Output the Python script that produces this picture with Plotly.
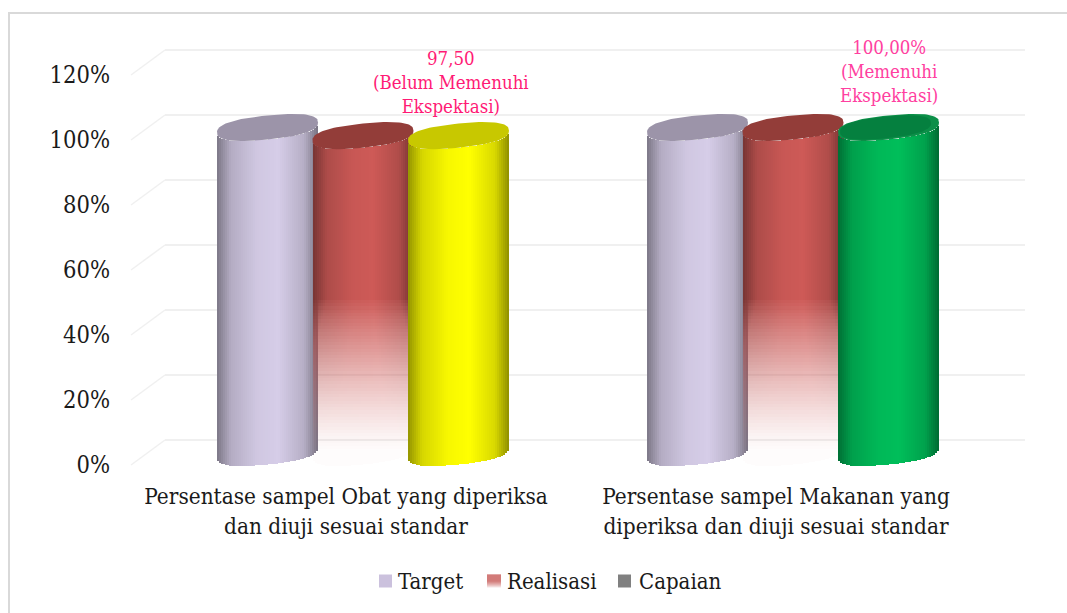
import numpy as np
import plotly.graph_objects as go

# ---------- data ----------
CATEGORIES = ["Persentase sampel Obat yang diperiksa<br>dan diuji sesuai standar",
              "Persentase sampel Makanan yang<br>diperiksa dan diuji sesuai standar"]
SERIES = ["Target", "Realisasi", "Capaian"]
TARGET = [100, 100]
REALISASI = [97.5, 100]
CAPAIAN = [97.5, 100]
Y_TICKS = [0, 20, 40, 60, 80, 100, 120]
Y_LABELS = ["0%", "20%", "40%", "60%", "80%", "100%", "120%"]
NOTES = ["97,50<br>(Belum Memenuhi<br>Ekspektasi)", "100,00%<br>(Memenuhi<br>Ekspektasi)"]

# ---------- styles / geometry ----------
FONT = "DejaVu Serif Condensed, DejaVu Serif, Liberation Serif"
TXT = "#1a1a1a"
W, H = 1067, 613
ML, MR, MT, MB = 111, 27, 20, 132
PX_PER_CAT = 430.0
PX_PER_PCT = 3.25
CAT0_PX, ZERO_PX = 346.0, 465.0
XR = [(ML - CAT0_PX) / PX_PER_CAT, (W - MR - CAT0_PX) / PX_PER_CAT]
YR = [(ZERO_PX - (H - MB)) / PX_PER_PCT, (ZERO_PX - MT) / PX_PER_PCT]
DEPTH_X, DEPTH_Y = 34 / PX_PER_CAT, 25 / PX_PER_PCT      # floor depth
CYL_DX, CYL_DY = 17 / PX_PER_CAT, 12.5 / PX_PER_PCT      # cylinder axis
STEP = 95.5 / PX_PER_CAT
R = 50.5 / PX_PER_CAT
TILT, SQUASH = 5 / PX_PER_PCT, 12 / PX_PER_PCT
ROUND = 0.8                                              # superellipse exponent of the end faces
N_STRIPS = 50
FADE_TOP, FADE_ROW = 47.0, 1.0

TARGET_RGB = (214, 205, 232)
RED_RGB = (206, 90, 87)
YELLOW_RGB = (255, 255, 0)
GREEN_RGB = (0, 190, 90)
CAPS = {"t": "#9C94A9", "r": "#933D39", "y": "#C8C800", "g": "#0C8F48", "g2": "#05803F"}
GRID = "#F0F0F0"
SHADE_U = [-1.0, -0.72, -0.2, 0.2, 0.72, 1.0]
SHADE_F = [0.58, 0.84, 0.97, 1.0, 0.85, 0.56]


def shade(u):
    for i in range(len(SHADE_U) - 1):
        if u <= SHADE_U[i + 1]:
            t = (u - SHADE_U[i]) / (SHADE_U[i + 1] - SHADE_U[i])
            return SHADE_F[i] + t * (SHADE_F[i + 1] - SHADE_F[i])
    return SHADE_F[-1]


def col(rgb, u, a=None):
    f = shade(u)
    r, g, b = [min(255, round(c * f)) for c in rgb]
    return f"rgb({r},{g},{b})" if a is None else f"rgba({r},{g},{b},{a:.3f})"


def front(u):
    c = abs(u) ** (1 / ROUND)
    return TILT * u - SQUASH * (1 - c * c) ** (ROUND / 2)


def body(cx, value, rgb, fade=False):
    xs, ys, bases, cols = [], [], [], []
    sw = 2 * R / N_STRIPS
    for i in range(N_STRIPS):
        u = -1 + (i + 0.5) * 2 / N_STRIPS
        x = cx + CYL_DX + u * R
        off = CYL_DY + front(u)
        if not fade:
            xs.append(x); bases.append(off); ys.append(value); cols.append(col(rgb, u))
            continue
        # the fade keeps a level top edge across the strip
        level = FADE_TOP + CYL_DY
        xs.append(x); bases.append(level); ys.append(value + off - level)
        cols.append(col(rgb, u, 1.0))
        v = level
        while v - FADE_ROW > off:
            v -= FADE_ROW
            t = max(0.0, (v - CYL_DY) / FADE_TOP)
            xs.append(x); bases.append(v); ys.append(FADE_ROW)
            cols.append(col(rgb, u * (0.2 + 0.8 * t), 0.02 + 0.98 * t ** 1.25))
        if v > off:
            xs.append(x); bases.append(off); ys.append(v - off)
            cols.append(col(rgb, u * 0.2, 0.02))
    return go.Bar(x=xs, y=ys, base=bases, width=[sw] * len(xs),
                  marker=dict(color=cols, line=dict(width=0)),
                  hoverinfo="skip", showlegend=False)


def cap(cx, value, color, scale=1.0):
    a = np.linspace(0, 2 * np.pi, 97)
    c = np.sign(np.cos(a)) * np.abs(np.cos(a)) ** ROUND
    s = np.sign(np.sin(a)) * np.abs(np.sin(a)) ** ROUND
    xs = cx + CYL_DX + R * c * scale
    ys = value + CYL_DY + (TILT * c + SQUASH * s) * scale
    return go.Scatter(x=xs.tolist(), y=ys.tolist(), mode="lines", fill="toself", fillcolor=color,
                      line=dict(width=0), hoverinfo="skip", showlegend=False)


fig = go.Figure()
caps = []
for g in range(len(CATEGORIES)):
    x_t, x_r, x_c = g - STEP, g, g + STEP
    fig.add_trace(body(x_t, TARGET[g], TARGET_RGB))
    fig.add_trace(body(x_r, REALISASI[g], RED_RGB, fade=True))
    rgb_c = YELLOW_RGB if g == 0 else GREEN_RGB
    fig.add_trace(body(x_c, CAPAIAN[g], rgb_c))
    caps += [cap(x_t, TARGET[g], CAPS["t"]), cap(x_r, REALISASI[g], CAPS["r"]),
             cap(x_c, CAPAIAN[g], CAPS["y"] if g == 0 else CAPS["g"])]
    if g == 1:
        caps.append(cap(x_c - 3 / PX_PER_CAT, CAPAIAN[g], CAPS["g2"], scale=0.9))
for c in caps:
    fig.add_trace(c)

shapes = []
for v in Y_TICKS:
    shapes.append(dict(type="line", layer="below", xref="x", yref="y",
                       x0=-0.5 + DEPTH_X, x1=1.5 + DEPTH_X, y0=v + DEPTH_Y, y1=v + DEPTH_Y,
                       line=dict(color=GRID, width=2)))
    shapes.append(dict(type="line", layer="below", xref="x", yref="y",
                       x0=-0.5, x1=-0.5 + DEPTH_X, y0=v, y1=v + DEPTH_Y,
                       line=dict(color=GRID, width=1.5)))


def pxx(p):
    return (p - ML) / (W - ML - MR)


def pxy(p):
    return 1 - (p - MT) / (H - MT - MB)


# outer frame
shapes.append(dict(type="line", xref="paper", yref="paper", x0=pxx(9), x1=pxx(9), y0=pxy(13), y1=pxy(613),
                   line=dict(color="#D9D9D9", width=2)))
shapes.append(dict(type="line", xref="paper", yref="paper", x0=pxx(8), x1=pxx(1067), y0=pxy(13), y1=pxy(13),
                   line=dict(color="#D9D9D9", width=2)))

annotations = []
NOTE_COLORS = ["#FF1A75", "#FF40A0"]
NOTE_SHIFT = [12.5, 13.3]
NOTE_DX = [-8 / PX_PER_CAT, 0.0]
for g, txt in enumerate(NOTES):
    annotations.append(dict(x=g + STEP + CYL_DX + NOTE_DX[g], y=CAPAIAN[g] + DEPTH_Y + NOTE_SHIFT[g], xref="x", yref="y",
                            text=txt, showarrow=False, xanchor="center", yanchor="middle",
                            font=dict(family=FONT, size=18.5, color=NOTE_COLORS[g])))

# legend row
LEG_SW = [379, 487, 618]
LEG_TXT = [397, 506, 638]
LEG_Y = 581
LEG_COL = ["#CBC1DD", None, "#808080"]
for i, name in enumerate(SERIES):
    annotations.append(dict(x=pxx(LEG_TXT[i]), y=pxy(LEG_Y), xref="paper", yref="paper", text=name,
                            showarrow=False, xanchor="left", yanchor="middle", xshift=-1,
                            font=dict(family=FONT, size=22, color=TXT)))
    if LEG_COL[i]:
        shapes.append(dict(type="rect", xref="paper", yref="paper", x0=pxx(LEG_SW[i]), x1=pxx(LEG_SW[i] + 13),
                           y0=pxy(LEG_Y - 6.5), y1=pxy(LEG_Y + 6.5), line=dict(width=0), fillcolor=LEG_COL[i]))
    else:
        for k in range(13):
            a = 1.0 if k < 7 else 1.0 - (k - 6) / 7
            shapes.append(dict(type="rect", xref="paper", yref="paper", x0=pxx(LEG_SW[i]), x1=pxx(LEG_SW[i] + 14),
                               y0=pxy(LEG_Y - 6.5 + k), y1=pxy(LEG_Y - 5.5 + k), line=dict(width=0),
                               fillcolor=f"rgba(194,79,76,{a:.2f})"))

fig.update_layout(
    width=W, height=H, autosize=False, barmode="overlay", bargap=0,
    margin=dict(l=ML, r=MR, t=MT, b=MB, pad=0),
    paper_bgcolor="white", plot_bgcolor="white", showlegend=False,
    xaxis=dict(range=XR, tickmode="array", tickvals=[0, 1], ticktext=CATEGORIES, showgrid=False,
               zeroline=False, showline=False, ticks="", tickangle=0,
               tickfont=dict(family=FONT, size=22.4, color=TXT)),
    yaxis=dict(range=YR, tickmode="array", tickvals=Y_TICKS, ticktext=Y_LABELS, showgrid=False,
               zeroline=False, showline=False, ticks="",
               tickfont=dict(family=FONT, size=23.5, color=TXT)),
    shapes=shapes, annotations=annotations,
)
fig.write_html("out.html", config={"displayModeBar": False},
               post_script="document.body.style.margin='0';")
